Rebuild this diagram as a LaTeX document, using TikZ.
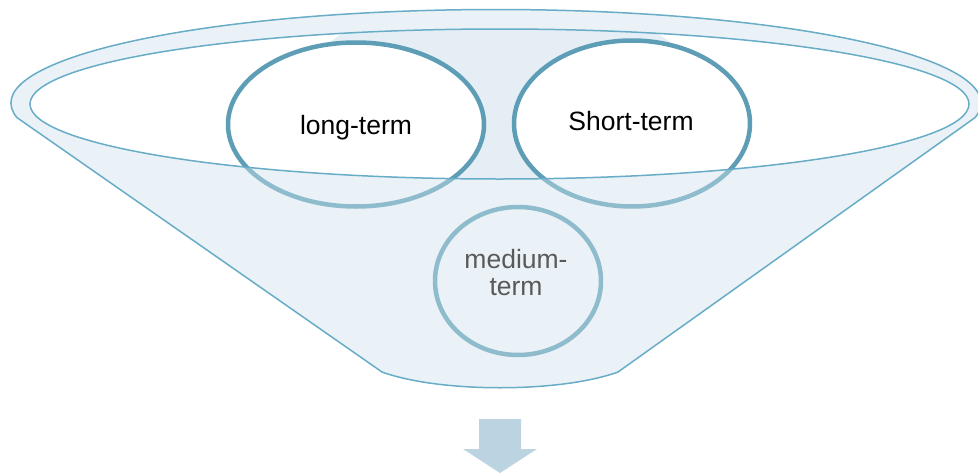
\documentclass[tikz,border=0pt]{standalone}
\usepackage{fontspec}
\setmainfont{Liberation Sans}
\definecolor{funline}{RGB}{104,172,199}
\definecolor{circline}{RGB}{93,158,182}
\definecolor{funfill}{RGB}{234,242,247}
\definecolor{backfill}{RGB}{228,238,244}
\definecolor{arrowfill}{RGB}{188,212,226}
\definecolor{midtext}{RGB}{89,89,89}
\tikzset{
  rimline/.style={draw=funline, line width=1.5pt},
  circstroke/.style={draw=circline, line width=4.5pt},
  label/.style={font=\fontsize{26.5}{27}\selectfont, inner sep=0pt, anchor=base, align=center},
}
\begin{document}
\begin{tikzpicture}[x=1pt,y=-1pt]
\useasboundingbox (0,0) rectangle (978,474);
% funnel body
\def\funnelpath{(16.97,117.63) arc[start angle=171, end angle=369, x radius=485, y radius=93.5] -- (618,372) .. controls (560,393) and (440,393) .. (382,372) -- cycle}
\fill[funfill] \funnelpath;
% inner ellipse (mouth)
\fill[white] (499.5,104) ellipse[x radius=469.5, y radius=75];
\begin{scope}
  \clip (499.5,104) ellipse[x radius=469.5, y radius=75];
  \fill[backfill] (500,95) ellipse[x radius=200, y radius=100];
  \fill[white] (356,124.5) ellipse[x radius=128, y radius=82];
  \fill[white] (632,123.5) ellipse[x radius=118, y radius=83];
\end{scope}
% circles
\draw[circstroke] (356,124.5) ellipse[x radius=128, y radius=82];
\draw[circstroke] (632,123.5) ellipse[x radius=118, y radius=83];
\draw[circstroke] (518,281) ellipse[x radius=83, y radius=74];
% translucent front of funnel
\fill[funfill, fill opacity=0.36, even odd rule] \funnelpath (499.5,104) ellipse[x radius=469.5, y radius=75];
% outlines
\draw[rimline] (499.5,104) ellipse[x radius=469.5, y radius=75];
\draw[rimline, line join=round] \funnelpath;
% texts
\node[label] (lt) at (356,134) {long-term};
\node[label] (st) at (631,130) {Short-term};
\node[label, text=midtext] (mt) at (516,295) {medium-\\term};
% arrow
\fill[arrowfill] (479,419) -- (521,419) -- (521,449) -- (537,449) -- (500,473) -- (463,449) -- (479,449) -- cycle;
\end{tikzpicture}
\end{document}
